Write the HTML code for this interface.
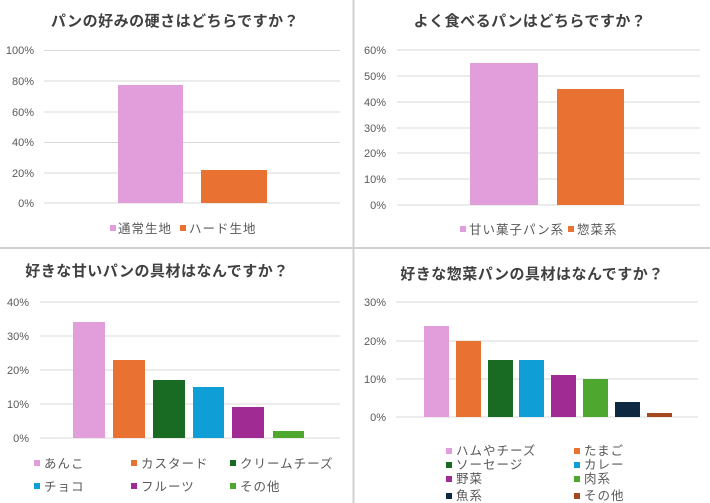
<!DOCTYPE html>
<html><head><meta charset="utf-8"><style>
body{margin:0;background:#fff}
svg{display:block}
text{font-family:"Liberation Sans","Noto Sans CJK JP",sans-serif}
.t{font-size:15px;font-weight:bold;fill:#404040;letter-spacing:0.5px}
.a{font-size:11px;fill:#595959}
.l{font-size:12.5px;fill:#595959;letter-spacing:1px}
.g{stroke:#d9d9d9;stroke-width:1}
</style></head><body>
<svg width="710" height="503" viewBox="0 0 710 503">
<rect width="710" height="503" fill="#fff"/>
<line x1="353.5" y1="0" x2="353.5" y2="503" stroke="#d0d0d0" stroke-width="2"/>
<line x1="0" y1="248" x2="710" y2="248" stroke="#d0d0d0" stroke-width="2"/>

<!-- Panel 1 -->
<text class="t" x="175" y="26" text-anchor="middle">パンの好みの硬さはどちらですか？</text>
<g class="g"><line x1="44" y1="50.5" x2="340" y2="50.5"/><line x1="44" y1="81" x2="340" y2="81"/><line x1="44" y1="112" x2="340" y2="112"/><line x1="44" y1="142.5" x2="340" y2="142.5"/><line x1="44" y1="173" x2="340" y2="173"/><line x1="44" y1="203" x2="340" y2="203"/></g>
<g class="a" text-anchor="end"><text x="34" y="54">100%</text><text x="34" y="85">80%</text><text x="34" y="116">60%</text><text x="34" y="146">40%</text><text x="34" y="177">20%</text><text x="34" y="207">0%</text></g>
<rect x="118" y="85" width="65" height="118" fill="#e29ddb"/>
<rect x="201" y="170" width="66" height="33" fill="#e97132"/>
<rect x="110" y="225" width="6" height="6" fill="#e29ddb"/><text class="l" x="118" y="233">通常生地</text>
<rect x="180" y="225" width="6" height="6" fill="#e97132"/><text class="l" x="189" y="233">ハード生地</text>

<!-- Panel 2 -->
<text class="t" x="530" y="26" text-anchor="middle">よく食べるパンはどちらですか？</text>
<g class="g"><line x1="397" y1="50" x2="700" y2="50"/><line x1="397" y1="76" x2="700" y2="76"/><line x1="397" y1="102" x2="700" y2="102"/><line x1="397" y1="128" x2="700" y2="128"/><line x1="397" y1="153" x2="700" y2="153"/><line x1="397" y1="179" x2="700" y2="179"/><line x1="397" y1="205" x2="700" y2="205"/></g>
<g class="a" text-anchor="end"><text x="386" y="54">60%</text><text x="386" y="80">50%</text><text x="386" y="106">40%</text><text x="386" y="132">30%</text><text x="386" y="157">20%</text><text x="386" y="183">10%</text><text x="386" y="209">0%</text></g>
<rect x="470" y="63" width="68" height="142" fill="#e29ddb"/>
<rect x="557" y="89" width="67" height="116" fill="#e97132"/>
<rect x="460" y="226" width="6" height="6" fill="#e29ddb"/><text class="l" x="469" y="234">甘い菓子パン系</text>
<rect x="568" y="226" width="6" height="6" fill="#e97132"/><text class="l" x="577" y="234">惣菜系</text>

<!-- Panel 3 -->
<text class="t" x="157" y="276" text-anchor="middle">好きな甘いパンの具材はなんですか？</text>
<g class="g"><line x1="40" y1="302" x2="340" y2="302"/><line x1="40" y1="336" x2="340" y2="336"/><line x1="40" y1="370" x2="340" y2="370"/><line x1="40" y1="404" x2="340" y2="404"/><line x1="40" y1="438" x2="340" y2="438"/></g>
<g class="a" text-anchor="end"><text x="29" y="306">40%</text><text x="29" y="340">30%</text><text x="29" y="374">20%</text><text x="29" y="408">10%</text><text x="29" y="442">0%</text></g>
<rect x="73" y="322" width="32" height="116" fill="#e29ddb"/>
<rect x="113" y="360" width="32" height="78" fill="#e97132"/>
<rect x="153" y="380" width="32" height="58" fill="#196b24"/>
<rect x="193" y="387" width="31" height="51" fill="#0f9ed5"/>
<rect x="232" y="407" width="32" height="31" fill="#a02b93"/>
<rect x="273" y="431" width="31" height="7" fill="#4ea72e"/>
<rect x="34" y="460" width="6" height="6" fill="#e29ddb"/><text class="l" x="44" y="468">あんこ</text>
<rect x="131" y="460" width="6" height="6" fill="#e97132"/><text class="l" x="141" y="468">カスタード</text>
<rect x="230" y="460" width="6" height="6" fill="#196b24"/><text class="l" x="240" y="468">クリームチーズ</text>
<rect x="34" y="483" width="6" height="6" fill="#0f9ed5"/><text class="l" x="44" y="491">チョコ</text>
<rect x="131" y="483" width="6" height="6" fill="#a02b93"/><text class="l" x="141" y="491">フルーツ</text>
<rect x="230" y="483" width="6" height="6" fill="#4ea72e"/><text class="l" x="240" y="491">その他</text>

<!-- Panel 4 -->
<text class="t" x="532" y="279" text-anchor="middle">好きな惣菜パンの具材はなんですか？</text>
<g class="g"><line x1="396" y1="302" x2="698" y2="302"/><line x1="396" y1="341" x2="698" y2="341"/><line x1="396" y1="379" x2="698" y2="379"/><line x1="396" y1="417" x2="698" y2="417"/></g>
<g class="a" text-anchor="end"><text x="386" y="306">30%</text><text x="386" y="345">20%</text><text x="386" y="383">10%</text><text x="386" y="421">0%</text></g>
<rect x="424" y="326" width="25" height="91" fill="#e29ddb"/>
<rect x="456" y="341" width="25" height="76" fill="#e97132"/>
<rect x="488" y="360" width="25" height="57" fill="#196b24"/>
<rect x="519" y="360" width="25" height="57" fill="#0f9ed5"/>
<rect x="551" y="375" width="25" height="42" fill="#a02b93"/>
<rect x="583" y="379" width="25" height="38" fill="#4ea72e"/>
<rect x="615" y="402" width="25" height="15" fill="#0e2841"/>
<rect x="647" y="413" width="25" height="4" fill="#a5481e"/>
<rect x="446" y="448" width="6" height="6" fill="#e29ddb"/><text class="l" x="456" y="455">ハムやチーズ</text>
<rect x="574" y="448" width="6" height="6" fill="#e97132"/><text class="l" x="584" y="455">たまご</text>
<rect x="446" y="462" width="6" height="6" fill="#196b24"/><text class="l" x="456" y="469">ソーセージ</text>
<rect x="574" y="462" width="6" height="6" fill="#0f9ed5"/><text class="l" x="584" y="469">カレー</text>
<rect x="446" y="476" width="6" height="6" fill="#a02b93"/><text class="l" x="456" y="483">野菜</text>
<rect x="574" y="476" width="6" height="6" fill="#4ea72e"/><text class="l" x="584" y="483">肉系</text>
<rect x="446" y="493" width="6" height="6" fill="#0e2841"/><text class="l" x="456" y="500">魚系</text>
<rect x="574" y="493" width="6" height="6" fill="#a5481e"/><text class="l" x="584" y="500">その他</text>
</svg>
</body></html>
